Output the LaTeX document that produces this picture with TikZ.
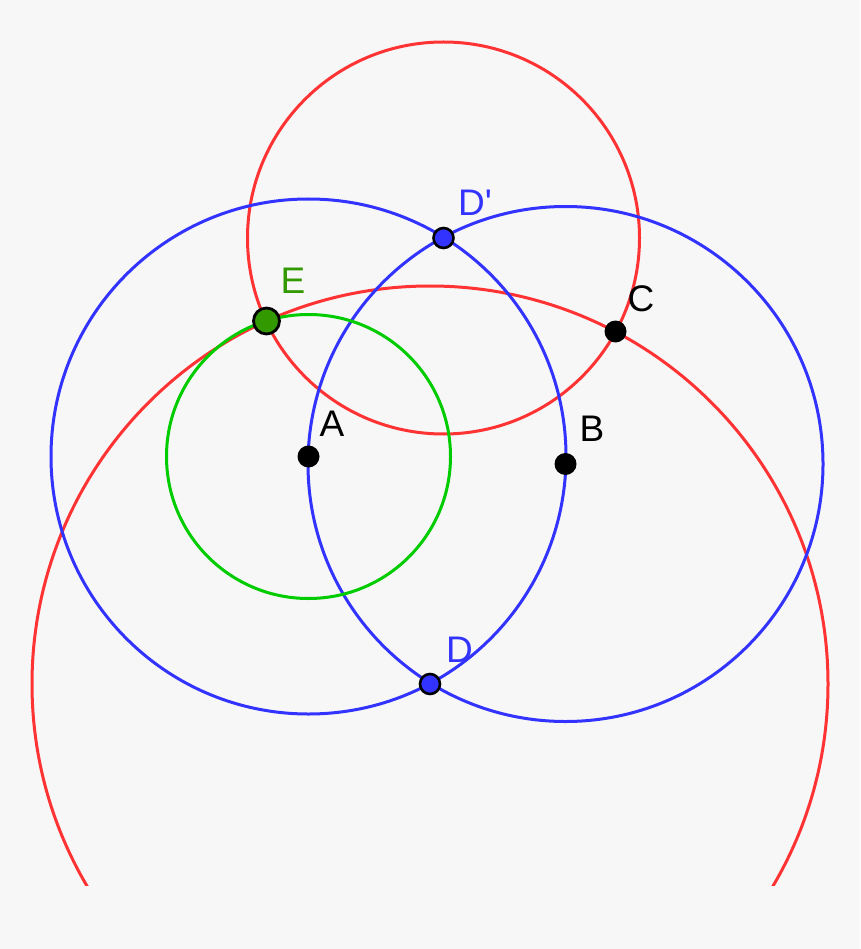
\documentclass[tikz,border=0pt]{standalone}
\usepackage{fontspec}
\setmainfont{Liberation Sans}
\definecolor{bgc}{HTML}{F7F7F7}
\definecolor{redc}{HTML}{FF3333}
\definecolor{bluec}{HTML}{3333FF}
\definecolor{greenc}{HTML}{00CC00}
\definecolor{greenpt}{HTML}{339900}
\tikzset{
  curve/.style={line width=3pt},
  blackpt/.style={circle, fill=black, inner sep=0pt, minimum size=22pt},
  bluept/.style={circle, fill=bluec, draw=black, line width=2.6pt, inner sep=0pt, minimum size=20pt},
  greenpoint/.style={circle, fill=greenpt, draw=black, line width=2.8pt, inner sep=0pt, minimum size=26pt},
  lab/.style={inner sep=0pt, font=\fontsize{37}{40}\selectfont}
}
\begin{document}
\begin{tikzpicture}[x=1pt,y=-1pt]
\fill[bgc] (0,0) rectangle (860,949);
\useasboundingbox (0,0) rectangle (860,949);
\coordinate (A) at (308.5,456.5);
\coordinate (B) at (565.5,464);
\coordinate (Dp) at (443.5,238);
\coordinate (D) at (430,684);
\coordinate (E) at (266.5,321);
\coordinate (C) at (615.5,331.5);
\begin{scope}
\clip (0,0) rectangle (860,885);
\draw[curve, redc] (D) circle[radius=398];
\end{scope}
\draw[curve, redc] (Dp) circle[radius=196];
\draw[curve, bluec] (A) circle[radius=257.5];
\draw[curve, bluec] (B) circle[radius=257.5];
\draw[curve, greenc] (A) circle[radius=142];
\node[blackpt] (pA) at (A) {};
\node[blackpt] (pB) at (B) {};
\node[blackpt] (pC) at (C) {};
\node[bluept] (pD) at (D) {};
\node[bluept] (pDp) at (Dp) {};
\node[greenpoint] (pE) at (E) {};
\node[lab] (lA) at (332,424) {A};
\node[lab] (lB) at (592,429) {B};
\node[lab] (lC) at (641,299) {C};
\node[lab, text=bluec] (lD) at (459.5,650) {D};
\node[lab, text=bluec] (lDp) at (475,203) {D\XeTeXglyph\XeTeXglyphindex "quotesingle"\relax};
\node[lab, text=greenpt] (lE) at (293,281) {E};
\end{tikzpicture}
\end{document}
